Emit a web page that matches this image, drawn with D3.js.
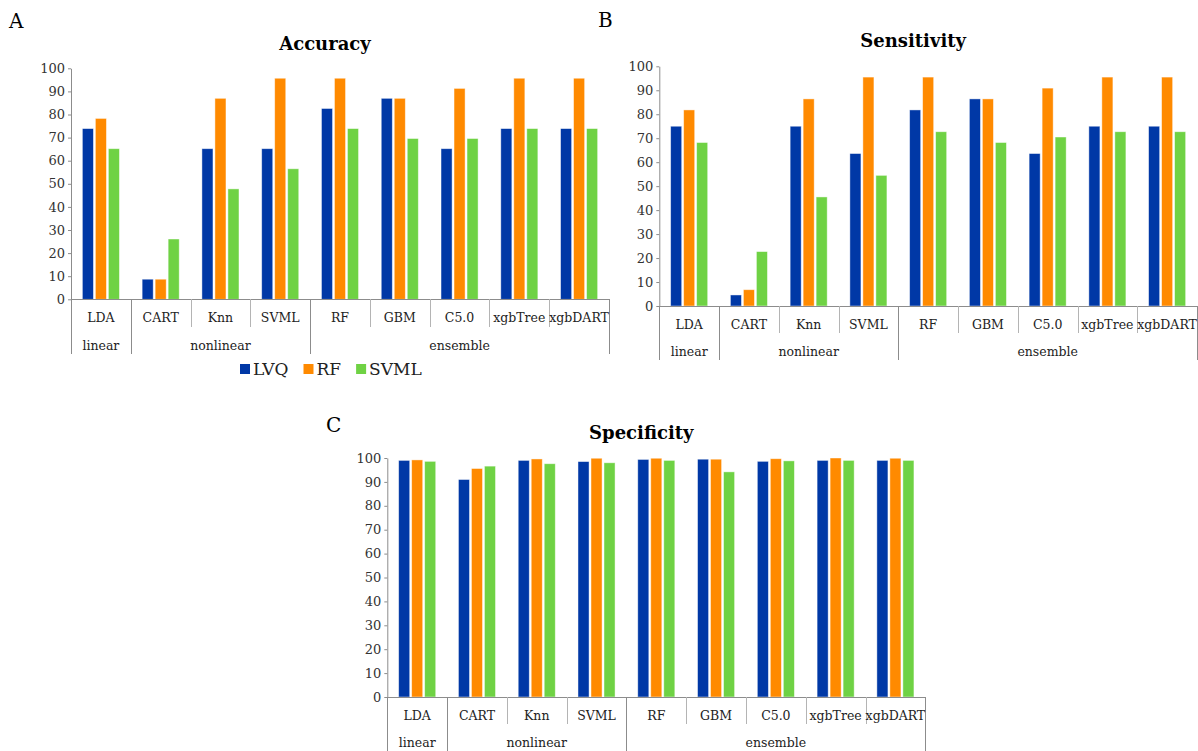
<!DOCTYPE html>
<html>
<head>
<meta charset="utf-8">
<script src="https://cdn.jsdelivr.net/npm/d3@7"></script>
<style>
body{
	margin: 0;
	background: #fff;
}
svg text {
	font-family: "DejaVu Serif", "Liberation Serif", serif;
	fill: #222;
}
.tick-label {
	font-size: 13px;
	fill: #333;
}
.cat-label {
	font-size: 12.5px;
}
.title {
	font-size: 18px;
	font-weight: bold;
	fill: #000;
}
.letter {
	font-size: 20px;
	fill: #000;
}
.legend-text {
	font-size: 17px;
}
.sep {
	stroke: #b4b4b4;
	shape-rendering: crispEdges;
}
.sep-group {
	stroke: #8c8c8c;
	shape-rendering: crispEdges;
}
</style>
</head>
<body>
<div id="chart"></div>
<script>
// categories and their family
var categories = ["LDA", "CART", "Knn", "SVML", "RF", "GBM", "C5.0", "xgbTree", "xgbDART"];
var families = ["linear", "nonlinear", "nonlinear", "nonlinear", "ensemble", "ensemble", "ensemble", "ensemble", "ensemble"];
var seriesNames = ["LVQ", "RF", "SVML"];
var seriesColors = ["#0038a6", "#ff8a00", "#6fd244"];
var yTicks = [0, 10, 20, 30, 40, 50, 60, 70, 80, 90, 100];

// Accuracy (A)
var accLVQ  = [73.9, 8.7, 65.2, 65.2, 82.6, 87.0, 65.2, 73.9, 73.9];
var accRF   = [78.3, 8.7, 87.0, 95.7, 95.7, 87.0, 91.3, 95.7, 95.7];
var accSVML = [65.2, 26.1, 47.8, 56.5, 73.9, 69.6, 69.6, 73.9, 73.9];

// Sensitivity (B)
var senLVQ  = [75.0, 4.6, 75.0, 63.6, 81.8, 86.4, 63.6, 75.0, 75.0];
var senRF   = [81.8, 6.8, 86.4, 95.5, 95.5, 86.4, 90.9, 95.5, 95.5];
var senSVML = [68.2, 22.7, 45.5, 54.5, 72.7, 68.2, 70.5, 72.7, 72.7];

// Specificity (C)
var speLVQ  = [99.0, 91.0, 99.0, 98.5, 99.4, 99.5, 98.6, 99.0, 99.0];
var speRF   = [99.2, 95.6, 99.6, 99.9, 99.9, 99.5, 99.7, 100.0, 99.9];
var speSVML = [98.6, 96.6, 97.6, 98.0, 99.0, 94.2, 98.8, 99.0, 99.0];

var svg = d3.select("#chart")
	.append("svg")
		.attr("width", 1198)
		.attr("height", 751);

function drawPanel(p) {
	var g = svg.append("g");

	var x0 = d3.scaleBand().domain(categories).range([p.left, p.right]).paddingInner(0).paddingOuter(0);
	var x1 = d3.scaleBand().domain(seriesNames)
		.range([x0.bandwidth() * 0.19, x0.bandwidth() * 0.81])
		.paddingInner(0.15);
	var y = d3.scaleLinear().domain([0, 100]).range([p.bottom, p.top]);

	// bars
	var rows = categories.map(function(c, i) {
		return {cat: c, vals: p.series.map(function(s, j) { return {name: seriesNames[j], value: s[i], color: seriesColors[j]}; })};
	});
	var cat = g.selectAll("g.cat")
		.data(rows)
		.enter().append("g")
			.attr("class", "cat")
			.attr("transform", function(d) { return "translate(" + x0(d.cat) + ",0)"; });
	cat.selectAll("rect")
		.data(function(d) { return d.vals; })
		.enter().append("rect")
			.attr("x", function(d) { return x1(d.name); })
			.attr("width", x1.bandwidth())
			.attr("y", function(d) { return y(d.value); })
			.attr("height", function(d) { return y(0) - y(d.value); })
			.attr("fill", function(d) { return d.color; })
			.attr("stroke", "rgba(255,255,255,0.55)")
			.attr("stroke-width", 0.8);

	// y axis
	var yAxis = d3.axisLeft(y).tickValues(yTicks).tickSize(3).tickSizeOuter(0).tickPadding(3);
	var ya = g.append("g")
		.attr("transform", "translate(" + p.left + ",0)")
		.call(yAxis);
	ya.select(".domain").attr("stroke", "#8c8c8c");
	ya.selectAll(".tick line").attr("stroke", "#8c8c8c");
	ya.selectAll(".tick text")
		.attr("class", "tick-label")
		.attr("font-family", null)
		.attr("font-size", null)
		.attr("fill", null);

	// x axis line
	g.append("line")
		.attr("class", "sep-group")
		.attr("x1", p.left).attr("x2", p.right)
		.attr("y1", p.bottom).attr("y2", p.bottom);

	// separators between categories
	var bounds = categories.map(function(c) { return x0(c); }).concat([p.right]);
	bounds.forEach(function(bx, i) {
		var isGroup = i == 0 || i == categories.length || families[i] != families[i - 1];
		g.append("line")
			.attr("class", isGroup ? "sep-group" : "sep")
			.attr("x1", Math.round(bx)).attr("x2", Math.round(bx))
			.attr("y1", p.bottom)
			.attr("y2", isGroup ? p.groupSepBottom : p.sepBottom);
	});

	// category labels
	g.selectAll("text.cat-label")
		.data(categories)
		.enter().append("text")
			.attr("class", "cat-label")
			.attr("x", function(d) { return x0(d) + x0.bandwidth() / 2; })
			.attr("y", p.catLabelY)
			.attr("dy", "0.35em")
			.attr("text-anchor", "middle")
			.text(function(d) { return d; });

	// family labels
	var famNames = [];
	families.forEach(function(f) { if (famNames.indexOf(f) < 0) famNames.push(f); });
	famNames.forEach(function(f) {
		var cats = categories.filter(function(c, i) { return families[i] == f; });
		var a = x0(cats[0]), b = x0(cats[cats.length - 1]) + x0.bandwidth();
		g.append("text")
			.attr("class", "cat-label")
			.attr("x", (a + b) / 2)
			.attr("y", p.groupLabelY)
			.attr("dy", "0.35em")
			.attr("text-anchor", "middle")
			.text(f);
	});

	// title and panel letter
	g.append("text")
		.attr("class", "title")
		.attr("x", (p.left + p.right) / 2 - 15)
		.attr("y", p.titleY)
		.attr("text-anchor", "middle")
		.text(p.title);
	g.append("text")
		.attr("class", "letter")
		.attr("x", p.letterX)
		.attr("y", p.letterY)
		.text(p.letter);
}

drawPanel({title: "Accuracy", letter: "A", letterX: 9, letterY: 28,
	left: 71, right: 609, top: 68.3, bottom: 299.3, titleY: 50,
	catLabelY: 318, groupLabelY: 346, sepBottom: 327, groupSepBottom: 354,
	series: [accLVQ, accRF, accSVML]});

drawPanel({title: "Sensitivity", letter: "B", letterX: 598, letterY: 27,
	left: 659.3, right: 1197, top: 66.3, bottom: 306, titleY: 47,
	catLabelY: 325, groupLabelY: 352, sepBottom: 333, groupSepBottom: 360,
	series: [senLVQ, senRF, senSVML]});

drawPanel({title: "Specificity", letter: "C", letterX: 326, letterY: 432,
	left: 387.3, right: 925.3, top: 458, bottom: 697, titleY: 439,
	catLabelY: 716, groupLabelY: 743, sepBottom: 724, groupSepBottom: 751,
	series: [speLVQ, speRF, speSVML]});

// legend under panel A
var legend = svg.append("g").attr("transform", "translate(240,369)");
var lx = 0;
seriesNames.forEach(function(name, i) {
	legend.append("rect")
		.attr("x", lx).attr("y", -5)
		.attr("width", 10).attr("height", 10)
		.attr("fill", seriesColors[i]);
	var t = legend.append("text")
		.attr("class", "legend-text")
		.attr("x", lx + 13)
		.attr("y", 0)
		.attr("dy", "0.35em")
		.text(name);
	lx += 13 + t.node().getComputedTextLength() + 15;
});
</script>
</body>
</html>
